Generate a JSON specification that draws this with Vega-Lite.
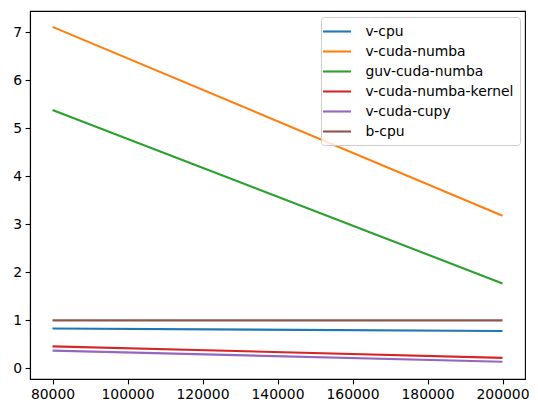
{
  "$schema": "https://vega.github.io/schema/vega-lite/v6.json",
  "width": 495,
  "height": 368,
  "autosize": "none",
  "padding": {"left": 30, "top": 11, "right": 13, "bottom": 34},
  "background": "white",
  "config": {
    "font": "DejaVu Sans",
    "view": {"stroke": "black", "strokeWidth": 1.1},
    "axis": {
      "grid": false,
      "domainColor": "black",
      "domainWidth": 1.1,
      "tickColor": "black",
      "tickWidth": 1.1,
      "tickSize": 4.9,
      "labelPadding": 3.5,
      "labelFont": "DejaVu Sans",
      "labelFontSize": 13.9,
      "labelColor": "black",
      "title": null
    }
  },
  "data": {
    "values": [
      {"n": 80000, "time": 0.83, "series": "v-cpu"},
      {"n": 200000, "time": 0.78, "series": "v-cpu"},
      {"n": 80000, "time": 7.11, "series": "v-cuda-numba"},
      {"n": 200000, "time": 3.18, "series": "v-cuda-numba"},
      {"n": 80000, "time": 5.38, "series": "guv-cuda-numba"},
      {"n": 200000, "time": 1.77, "series": "guv-cuda-numba"},
      {"n": 80000, "time": 0.46, "series": "v-cuda-numba-kernel"},
      {"n": 200000, "time": 0.22, "series": "v-cuda-numba-kernel"},
      {"n": 80000, "time": 0.37, "series": "v-cuda-cupy"},
      {"n": 200000, "time": 0.14, "series": "v-cuda-cupy"},
      {"n": 80000, "time": 1.0, "series": "b-cpu"},
      {"n": 200000, "time": 1.0, "series": "b-cpu"}
    ]
  },
  "mark": {"type": "line", "strokeWidth": 2.1},
  "encoding": {
    "x": {
      "field": "n",
      "type": "quantitative",
      "scale": {"domain": [74000, 206000], "nice": false, "zero": false},
      "axis": {"values": [80000, 100000, 120000, 140000, 160000, 180000, 200000], "format": "d", "labelFlush": false}
    },
    "y": {
      "field": "time",
      "type": "quantitative",
      "scale": {"domain": [-0.22, 7.44], "nice": false, "zero": false},
      "axis": {"values": [0, 1, 2, 3, 4, 5, 6, 7], "format": "d", "labelFlush": false}
    },
    "color": {
      "field": "series",
      "type": "nominal",
      "scale": {
        "domain": ["v-cpu", "v-cuda-numba", "guv-cuda-numba", "v-cuda-numba-kernel", "v-cuda-cupy", "b-cpu"],
        "range": ["#1f77b4", "#ff7f0e", "#2ca02c", "#d62728", "#9467bd", "#8c564b"]
      },
      "legend": {
        "title": null,
        "orient": "none",
        "legendX": 291,
        "legendY": 6,
        "symbolType": "M-2,0H2",
        "symbolSize": 196,
        "symbolOffset": 1.5,
        "symbolStrokeWidth": 2.1,
        "symbolFillColor": "transparent",
        "labelFont": "DejaVu Sans",
        "labelFontSize": 13.9,
        "labelColor": "black",
        "labelOffset": 20,
        "rowPadding": 4,
        "padding": 6,
        "strokeColor": "#cccccc",
        "fillColor": "rgba(255,255,255,0.8)",
        "cornerRadius": 3
      }
    }
  }
}
